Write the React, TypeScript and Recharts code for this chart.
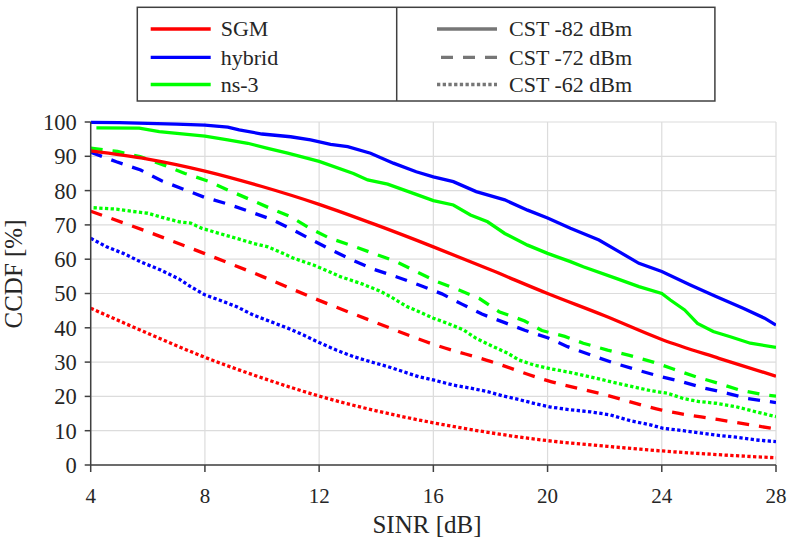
import React from 'react';
import { LineChart, Line, XAxis, YAxis, CartesianGrid } from 'recharts';

type Pt = [number, number];

// ---- axis ticks ----
const xTicks = [4, 8, 12, 16, 20, 24, 28];
const yTicks = [0, 10, 20, 30, 40, 50, 60, 70, 80, 90, 100];

// ---- series values: [SINR dB, CCDF %] ----
const sgm82: Pt[] = [[4, 91.6], [6, 89.2], [8, 85.7], [10, 81.2], [12, 76], [14, 70], [16, 63.6], [18, 56.9], [20, 50], [22, 43.5], [24, 36.6], [26, 31.1], [28, 25.9]];
const sgm72: Pt[] = [[4, 74], [6, 68], [8, 61.6], [10, 55], [12, 48], [14, 41.5], [16, 35.2], [18, 30.2], [20, 24.6], [22, 20.5], [24, 16], [26, 13.2], [28, 10.5]];
const sgm62: Pt[] = [[4, 45.7], [6, 38.4], [8, 31.4], [10, 25.4], [12, 20.1], [14, 15.8], [16, 12.3], [18, 9.4], [20, 7.1], [22, 5.5], [24, 4.1], [26, 3.0], [28, 2.1]];

const hyb82: Pt[] = [[4, 99.9], [5, 99.8], [6, 99.6], [7, 99.4], [8, 99.1], [8.8, 98.5], [9.2, 97.7], [10, 96.5], [11, 95.7], [11.7, 94.8], [12.4, 93.5], [13, 92.8], [13.8, 90.9], [14.6, 88], [15.4, 85.5], [16, 84], [16.7, 82.6], [17.5, 79.7], [18.5, 77.3], [19.3, 74.3], [20, 72], [20.8, 69], [21.8, 65.6], [22.5, 62.2], [23.2, 58.8], [24, 56.4], [25, 52.5], [25.9, 49.1], [26.85, 45.7], [27.6, 42.8], [28, 40.8]];
const hyb72: Pt[] = [[4, 91.2], [4.9, 88.4], [5.75, 86], [6.5, 82.8], [7.25, 80.4], [8, 78], [8.8, 76.1], [9.6, 73.8], [10.3, 71.7], [11.1, 68.5], [11.8, 65.4], [12.4, 62.8], [13.2, 59.6], [13.9, 57.1], [14.7, 54.9], [15.5, 52.5], [16.3, 49.9], [17, 46.9], [17.7, 44], [18.5, 41.5], [19.2, 39.3], [20, 37.1], [20.7, 34.5], [21.5, 32.1], [22.3, 29.8], [23.1, 27.8], [23.9, 25.9], [24.7, 24.3], [25.5, 22.4], [26.3, 20.9], [27, 19.4], [28, 18.2]];
const hyb62: Pt[] = [[4, 66.1], [4.56, 63.6], [5.14, 61.7], [5.73, 59.3], [6.43, 56.9], [7.1, 54.2], [7.5, 52], [8, 49.6], [8.5, 48.1], [9.1, 46.2], [9.7, 43.7], [10.3, 41.8], [10.9, 39.9], [11.45, 37.9], [12, 35.7], [12.6, 33.5], [13.2, 31.6], [13.8, 30.1], [14.4, 28.7], [14.95, 27.2], [15.5, 25.7], [16, 24.8], [16.7, 23.3], [17.3, 22.4], [17.9, 21.4], [18.45, 20.1], [19.04, 19], [19.6, 17.8], [20.1, 16.9], [20.8, 16.1], [21.5, 15.5], [22.2, 14.6], [22.9, 12.9], [23.6, 11.7], [24.05, 10.7], [24.75, 10], [25.3, 9.4], [25.9, 8.7], [26.6, 8.1], [27.3, 7.3], [28, 6.8]];

const ns82: Pt[] = [[4.2, 98.3], [5.7, 98.2], [6.4, 97.2], [8, 95.9], [8.8, 94.8], [9.5, 93.8], [10.2, 92.3], [10.9, 90.9], [12, 88.5], [13.2, 85], [13.7, 83.1], [14.4, 81.9], [15.3, 79.2], [16, 77.1], [16.7, 75.8], [17.3, 72.9], [17.9, 70.9], [18.5, 67.5], [19.3, 64.1], [20, 61.7], [20.8, 59.3], [21.25, 57.8], [22.4, 54.4], [23.2, 52], [24, 50], [24.3, 48.1], [24.8, 45.2], [25.25, 41.3], [25.8, 38.9], [26.4, 37.4], [27.1, 35.5], [28, 34.3]];
const ns72: Pt[] = [[4, 92.4], [4.94, 91.4], [5.73, 89.9], [6.54, 87.5], [7.3, 85], [8.1, 82.8], [8.8, 80.2], [9.55, 77.5], [10.3, 74.8], [11, 72.4], [11.7, 68.9], [12.35, 66.2], [13.2, 63.8], [13.9, 61.7], [14.7, 59.3], [15.4, 56.4], [16.15, 53.4], [16.9, 51], [17.6, 48.6], [18.3, 44.7], [19.2, 42], [19.8, 39.2], [20.6, 37.5], [21.25, 35.5], [22.1, 33.5], [22.9, 31.9], [23.7, 30], [24.4, 28], [25.2, 25.7], [26, 23.8], [26.7, 21.9], [27.6, 20.4], [28, 20.1]];
const ns62: Pt[] = [[4.1, 75], [4.9, 74.6], [5.4, 74], [6, 73.4], [6.5, 72.2], [7.1, 70.9], [7.5, 70.5], [7.9, 69], [8.5, 67.5], [9.1, 66.1], [9.7, 64.6], [10.2, 63.6], [10.6, 62.2], [11.1, 60.3], [11.8, 58.3], [12.4, 56.2], [12.74, 54.9], [13.44, 53], [14.1, 50.8], [14.5, 49.1], [15.07, 46.2], [15.5, 44.7], [16, 42.8], [16.5, 41.3], [17.05, 39.4], [17.5, 36.9], [18.1, 34.5], [18.6, 32.6], [19, 30.6], [19.5, 29.2], [20.08, 28.1], [20.78, 27], [21.5, 25.7], [22.2, 24.3], [22.9, 23], [23.6, 21.7], [24.2, 20.9], [24.75, 19.4], [25.3, 18.5], [25.9, 18], [26.6, 17], [27.3, 15.5], [28, 14.1]];

// ---- legend labels ----
const modelNames = ['SGM', 'hybrid', 'ns-3'];
const cstNames = ['CST -82 dBm', 'CST -72 dBm', 'CST -62 dBm'];

const RED = '#ff0000';
const BLUE = '#0000ff';
const GREEN = '#00ff00';
const modelColors = [RED, BLUE, GREEN];
const DASH = '12 10';
const DOT = '3.3 2.4';
const cstDashes: (string | undefined)[] = [undefined, DASH, DOT];

const FONT = 'Liberation Serif';
const TEXT = '#262626';
const AXIS = '#404040';

const txt = (size: number): React.CSSProperties => ({ fontFamily: FONT, fontSize: size, fill: TEXT });

const rows = (pts: Pt[]) => pts.map(([x, y]) => ({ x, y }));

const series = [
  { id: 'sgm62', pts: sgm62, color: RED, dash: DOT, curve: 'monotone' },
  { id: 'hyb62', pts: hyb62, color: BLUE, dash: DOT, curve: 'linear' },
  { id: 'ns62', pts: ns62, color: GREEN, dash: DOT, curve: 'linear' },
  { id: 'sgm72', pts: sgm72, color: RED, dash: DASH, curve: 'monotone' },
  { id: 'hyb72', pts: hyb72, color: BLUE, dash: DASH, curve: 'linear' },
  { id: 'ns72', pts: ns72, color: GREEN, dash: DASH, curve: 'linear' },
  { id: 'sgm82', pts: sgm82, color: RED, dash: undefined, curve: 'monotone' },
  { id: 'hyb82', pts: hyb82, color: BLUE, dash: undefined, curve: 'linear' },
  { id: 'ns82', pts: ns82, color: GREEN, dash: undefined, curve: 'linear' },
];

const rowLineY = [29, 57.3, 84.5];

function LegendBox() {
  return (
    <svg width={789} height={110} style={{ position: 'absolute', left: 0, top: 0 }}>
      <rect x={137.3} y={7.3} width={577.6} height={93.7} fill="#fff" stroke={AXIS} strokeWidth={1.5} />
      <line x1={396.7} y1={7.3} x2={396.7} y2={101} stroke={AXIS} strokeWidth={1.5} />
      {modelNames.map((n, i) => (
        <g key={n}>
          <line x1={150.7} x2={210.7} y1={rowLineY[i]} y2={rowLineY[i]} stroke={modelColors[i]} strokeWidth={3.3} />
          <text x={220.7} y={rowLineY[i] + 7.3} style={txt(22)}>{n}</text>
        </g>
      ))}
      {cstNames.map((n, i) => (
        <g key={n}>
          <line x1={i === 1 ? 441 : 437} x2={497} y1={rowLineY[i]} y2={rowLineY[i]} stroke="#767676" strokeWidth={3.3} strokeDasharray={cstDashes[i]} />
          <text x={509} y={rowLineY[i] + 7.3} style={txt(22)}>{n}</text>
        </g>
      ))}
    </svg>
  );
}

export default function App() {
  return (
    <div style={{ position: 'absolute', left: 0, top: 0, width: 789, height: 542, background: '#fff', fontFamily: FONT }}>
      <LineChart width={789} height={542} margin={{ top: 122, right: 13, bottom: 47, left: 0 }} style={{ fontFamily: FONT }}>
        <CartesianGrid stroke="#dcdcdc" strokeWidth={1.2} />
        <XAxis
          dataKey="x"
          type="number"
          domain={[4, 28]}
          ticks={xTicks}
          allowDataOverflow
          height={30}
          tickSize={7}
          tickMargin={16}
          axisLine={{ stroke: AXIS, strokeWidth: 1.5 }}
          tickLine={{ stroke: AXIS, strokeWidth: 1.5 }}
          tick={{ style: txt(21), fontFamily: FONT, fontSize: 21, fill: TEXT }}
          label={{
            content: () => (
              <text x={427} y={533} textAnchor="middle" style={txt(25)}>SINR [dB]</text>
            ),
          }}
        />
        <YAxis
          type="number"
          domain={[0, 100]}
          ticks={yTicks}
          width={90.7}
          tickSize={6}
          tickMargin={8}
          axisLine={{ stroke: AXIS, strokeWidth: 1.5 }}
          tickLine={{ stroke: AXIS, strokeWidth: 1.5 }}
          tick={{ style: txt(22.5), fontFamily: FONT, fontSize: 22.5, fill: TEXT }}
          label={{
            content: () => (
              <text x={22} y={274} transform="rotate(-90, 22, 274)" textAnchor="middle" style={txt(25)}>CCDF [%]</text>
            ),
          }}
        />
        {series.map((s) => (
          <Line
            key={s.id}
            data={rows(s.pts)}
            dataKey="y"
            type={s.curve as any}
            stroke={s.color}
            strokeWidth={3.3}
            strokeDasharray={s.dash}
            dot={false}
            activeDot={false}
            isAnimationActive={false}
          />
        ))}
      </LineChart>
      <LegendBox />
    </div>
  );
}
